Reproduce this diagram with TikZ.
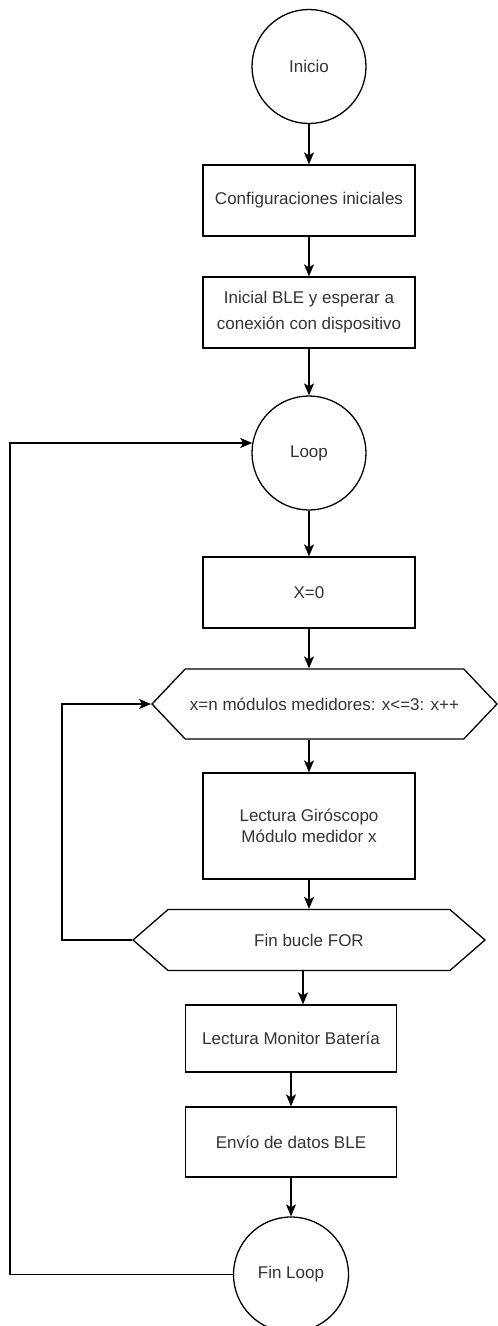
\documentclass[tikz,border=0pt]{standalone}
\usepackage{fontspec}
\setmainfont{Liberation Sans}
\usepackage{tikz}
\usetikzlibrary{shapes.geometric, shapes.symbols, arrows.meta, positioning}

\begin{document}
\begin{tikzpicture}[
    x=1pt, y=-1pt,
    term/.style={circle, draw=black, line width=1.3pt, minimum size=114pt, inner sep=0pt, font=\fontsize{17}{21}\selectfont, text=black!80},
    proc/.style={rectangle, draw=black, line width=1.3pt, minimum width=212pt, minimum height=71pt, inner sep=0pt, align=center, font=\fontsize{17}{26}\selectfont, text=black!80},
    forhex/.style={signal, signal to=west and east, draw=black, line width=1.3pt, inner sep=0pt, font=\fontsize{17}{21}\selectfont, text=black!80},
    conn/.style={-{Stealth[length=12pt, width=10pt, inset=3pt]}, line width=1.3pt, black}
]
\useasboundingbox (0,0) rectangle (498,1326);

\node[term] (inicio) at (309,66.5) {Inicio};
\node[proc] (config) at (309,200.5) {Configuraciones iniciales};
\node[proc] (ble) at (309,312.5) {Inicial BLE y esperar a\\conexión con dispositivo};
\node[term] (loop) at (309,453) {Loop};
\node[proc] (xcero) at (309,592.5) {X=0};
\node[forhex, minimum width=345pt, minimum height=70pt, signal pointer angle=93] (forini) at (324.5,704) {x=n módulos medidores: x<=3: x++};
\node[proc, minimum height=106pt, font=\fontsize{17}{21}\selectfont] (giro) at (309,826) {Lectura Giróscopo\\Módulo medidor x};
\node[forhex, minimum width=352pt, minimum height=61pt, signal pointer angle=82] (forfin) at (309,940) {Fin bucle FOR};
\node[proc, minimum width=211pt, minimum height=67pt] (bateria) at (291,1038.5) {Lectura Monitor Batería};
\node[proc, minimum width=211pt, minimum height=70pt] (envio) at (291,1142) {Envío de datos BLE};
\node[term, minimum size=115pt] (finloop) at (291,1274.5) {Fin Loop};

\draw[conn] (inicio) -- (config);
\draw[conn] (config) -- (ble);
\draw[conn] (ble) -- (loop);
\draw[conn] (loop) -- (xcero);
\draw[conn] (xcero.south) -- (xcero.south |- forini.north);
\draw[conn] (giro.north |- forini.south) -- (giro.north);
\draw[conn] (giro.south) -- (giro.south |- forfin.north);
\draw[conn] ([xshift=-6pt]forfin.south) -- ([xshift=12pt]bateria.north);
\draw[conn] (bateria.south) -- (envio.north);
\draw[conn] (envio.south) -- (finloop.north);

% vuelta del bucle FOR
\draw[conn] (forfin.west) -- ++(-70,0) |- (forini.west);
% vuelta del loop principal
\draw[conn] (finloop.west) -- ++(-223,0) |- (loop.170);
\end{tikzpicture}
\end{document}
